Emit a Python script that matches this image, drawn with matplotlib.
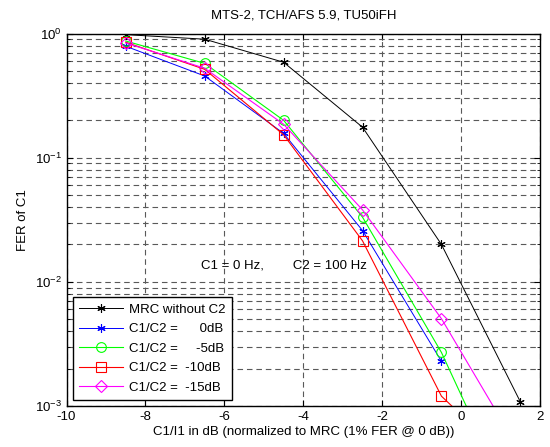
import numpy as np
import matplotlib.pyplot as plt
from matplotlib.ticker import LogLocator, NullFormatter

plt.rcParams['font.family'] = ['Liberation Sans', 'DejaVu Sans']
plt.rcParams['font.size'] = 9.5
plt.rcParams['mathtext.fontset'] = 'custom'
plt.rcParams['mathtext.rm'] = 'Liberation Sans'
plt.rcParams['axes.unicode_minus'] = False

# C1/I1 in dB
x_mrc = [-8.5, -6.5, -4.5, -2.5, -0.5, 1.5]
fer_mrc = [0.98, 0.90, 0.587, 0.176, 0.020, 0.00108]

x_0 = [-8.5, -6.5, -4.5, -2.5, -0.5]
fer_0 = [0.79, 0.455, 0.157, 0.0259, 0.00229]

x_5 = [-8.5, -6.5, -4.5, -2.5, -0.5, 1.5]
fer_5 = [0.87, 0.575, 0.20, 0.0332, 0.0027, 0.000114]

x_10 = [-8.5, -6.5, -4.5, -2.5, -0.5, 1.5]
fer_10 = [0.85, 0.515, 0.153, 0.0214, 0.0012, 0.0003]

x_15 = [-8.5, -6.5, -4.5, -2.5, -0.5, 1.5]
fer_15 = [0.84, 0.525, 0.186, 0.038, 0.00505, 0.000425]

labels = ['MRC without C2', 'C1/C2 =      0dB', 'C1/C2 =     -5dB',
          'C1/C2 =  -10dB', 'C1/C2 =  -15dB']

fig = plt.figure(figsize=(5.5, 4.47), dpi=100)
ax = fig.add_axes([0.121, 0.0917, 0.861, 0.8333])

star = (6, 2, 0)
ax.plot(x_mrc, fer_mrc, color='k', lw=0.7, marker=star, ms=6, mew=0.8, label=labels[0])
ax.plot(x_0, fer_0, color='b', lw=0.7, marker=star, ms=6, mew=0.8, label=labels[1])
ax.plot(x_5, fer_5, color='#00ff00', lw=0.8, marker='o', ms=7, mfc='none', mew=0.8, label=labels[2])
ax.plot(x_10, fer_10, color='r', lw=0.8, marker='s', ms=7, mfc='none', mew=0.8, label=labels[3])
ax.plot(x_15, fer_15, color='#ff00ff', lw=0.8, marker='D', ms=6, mfc='none', mew=0.8, label=labels[4])

ax.set_yscale('log')
ax.set_xlim(-10, 2)
ax.set_ylim(1e-3, 1)
ax.set_xticks(np.arange(-10, 3, 2))
ax.yaxis.set_minor_locator(LogLocator(base=10, subs=np.arange(2, 10)))
ax.yaxis.set_minor_formatter(NullFormatter())
ax.tick_params(which='both', direction='in', top=True, right=True, labelsize=9.5)
ax.tick_params(which='major', length=4)
ax.tick_params(which='minor', length=2.5)

gkw = dict(color='0.35', linestyle=(0, (5, 3.5)), linewidth=0.8)
ax.grid(True, which='major', axis='x', **gkw)
ax.grid(True, which='both', axis='y', **gkw)
ax.set_axisbelow(True)
for s in ax.spines.values():
    s.set_linewidth(1.0)

ax.set_title('MTS-2, TCH/AFS 5.9, TU50iFH', fontsize=9.5, pad=11)
ax.set_xlabel('C1/I1 in dB (normalized to MRC (1% FER @ 0 dB))', fontsize=9.5, labelpad=2)
ax.set_ylabel('FER of C1', fontsize=9.5)
ax.text(-6.6, 0.0135, 'C1 = 0 Hz,        C2 = 100 Hz', fontsize=9.5, va='center', ha='left')

leg = ax.legend(loc='lower left', bbox_to_anchor=(0.013, 0.015), fontsize=9.5,
                handlelength=3.3, handletextpad=0.45, borderpad=0.5, labelspacing=0.55,
                fancybox=False, framealpha=1, edgecolor='k', borderaxespad=0)
leg.get_frame().set_linewidth(1.0)

fig.savefig('out.png', dpi=100)
